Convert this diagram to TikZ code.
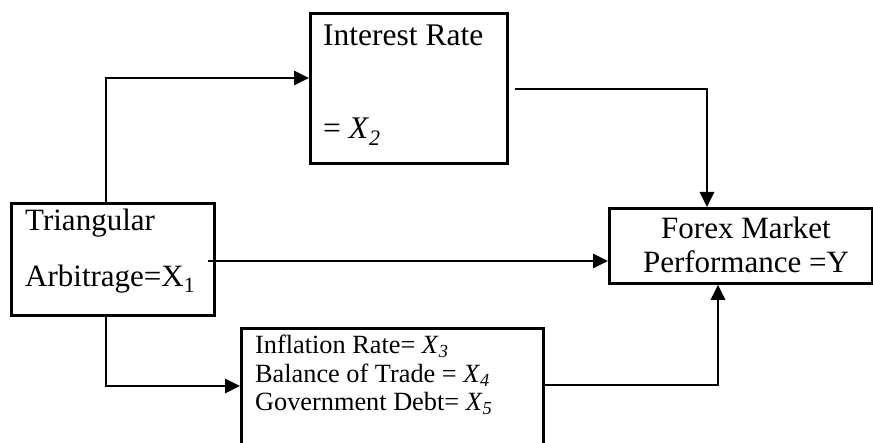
\documentclass[tikz,border=0pt]{standalone}
\usepackage{fontspec}
\setmainfont{Liberation Serif}
\usetikzlibrary{arrows.meta}
\begin{document}
\begin{tikzpicture}[x=1pt,y=-1pt,
  box/.style={draw=black,line width=2.8pt,rectangle,inner sep=0pt,anchor=north west},
  lbl/.style={anchor=base west,inner sep=0pt,text=black},
  arr/.style={draw=black,line width=2.8pt,-{Triangle[length=15pt,width=14pt]}},
  big/.style={font=\fontsize{31}{35}\selectfont},
  mid/.style={font=\fontsize{31.5}{35}\selectfont},
  small/.style={font=\fontsize{26.3}{29}\selectfont}]
\useasboundingbox (0,0) rectangle (873,443);
\clip (0,0) rectangle (873,443);
\fill[white] (0,0) rectangle (873,443);
% boxes
\node[box,minimum width=197pt,minimum height=150pt] (ir) at (309,12) {};
\node[box,minimum width=203pt,minimum height=112pt] (tri) at (10,202) {};
\node[box,minimum width=263pt,minimum height=75pt] (fx) at (608,207) {};
\node[box,minimum width=302pt,minimum height=140pt] (bt) at (240,327) {};
% texts
\node[lbl,mid] (irt1) at (323,46) {Interest Rate};
\node[lbl,mid] (irt2) at (323,139) {= \textit{X}\textsubscript{\textit{2}}};
\node[lbl,big] (trt1) at (25,231) {Triangular};
\node[lbl,big] (trt2) at (25,287) {Arbitrage=X\textsubscript{1}};
\node[anchor=base,inner sep=0pt,big] (fxt1) at (746,239) {Forex Market};
\node[anchor=base,inner sep=0pt,big] (fxt2) at (746,273) {Performance =Y};
\node[lbl,small] (btt1) at (255,354) {Inflation Rate= \textit{X}\textsubscript{\textit{3}}};
\node[lbl,small] (btt2) at (255,382.5) {Balance of Trade = \textit{X}\textsubscript{\textit{4}}};
\node[lbl,small] (btt3) at (255,411) {Government Debt= \textit{X}\textsubscript{\textit{5}}};
% connectors
\coordinate (c1) at (106,78);
\coordinate (c2) at (707,89);
\coordinate (c3) at (208,261);
\coordinate (c4) at (106,386);
\coordinate (c5) at (718,385);
\draw[arr] (tri.north -| c1) |- (ir.west |- c1);
\draw[arr] ([xshift=6pt]ir.east |- c2) -| (fx.north -| c2);
\draw[arr] (c3) -- (fx.west |- c3);
\draw[arr] (tri.south -| c4) |- (bt.west |- c4);
\draw[arr] ([xshift=-2pt]bt.east |- c5) -| (fx.south -| c5);
\end{tikzpicture}
\end{document}
